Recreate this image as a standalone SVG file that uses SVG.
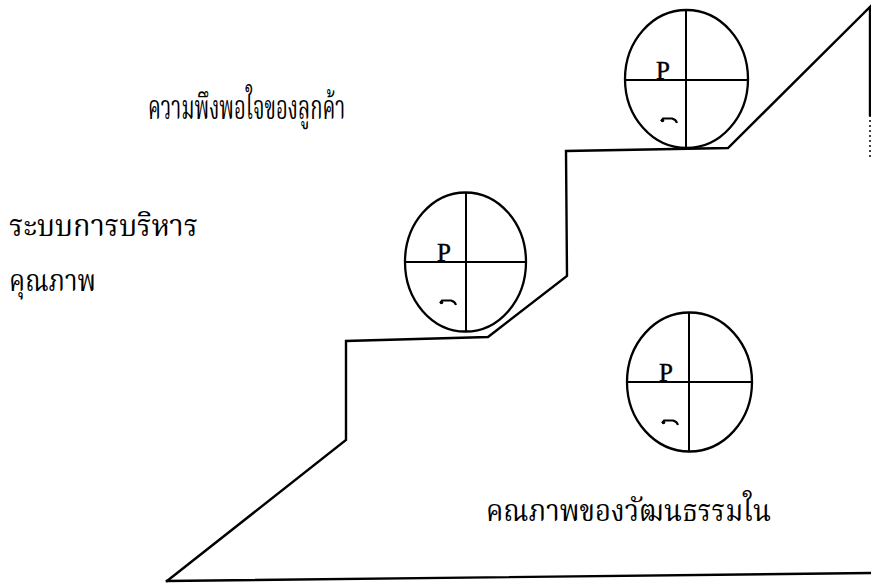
<svg xmlns="http://www.w3.org/2000/svg" width="871" height="583" viewBox="0 0 871 583">
<style>
.line{fill:none;stroke:#000;stroke-width:2.4;stroke-linejoin:miter;stroke-linecap:square}
.wheel{fill:none;stroke:#000;stroke-width:2.3}
.cross{stroke:#000;stroke-width:2}
.p{font-family:"Liberation Serif",serif;font-size:25px;fill:#000;stroke:#000;stroke-width:0.4}
.th{font-family:"Noto Serif Thai","Noto Sans Thai","Norasi","Loma","Garuda","DejaVu Sans",sans-serif;font-size:30px;fill:#000}
.tick{fill:none;stroke:#000;stroke-width:2}
</style>
<defs>
<g id="tickmark">
<circle cx="1.5" cy="2.5" r="1.8" fill="#000"/>
<path class="tick" d="M0,3 L2,0.5 L11,0.5 Q15,1.5 16,5"/>
</g>
</defs>
<rect width="871" height="583" fill="#fff"/>
<g id="connectors">
<path class="line" d="M167,581 L346,440 L346,341 L488,337 L567,276 L566,151 L728,148 L870,7 L870,115"/>
<path class="line" d="M167,581 L871,573"/>
<path d="M870,115 L870,158" fill="none" stroke="#000" stroke-width="1.5" stroke-dasharray="2,3"/>
</g>
<g id="wheel-top">
<ellipse class="wheel" cx="686.5" cy="79" rx="61.5" ry="69"/>
<line class="cross" x1="625" y1="80" x2="748" y2="80"/>
<line class="cross" x1="686" y1="10" x2="686" y2="148"/>
<text class="p" x="656" y="79">P</text>
<use href="#tickmark" x="661" y="118"/>
</g>
<g id="wheel-middle">
<ellipse class="wheel" cx="465.5" cy="262" rx="60.5" ry="69.5"/>
<line class="cross" x1="405" y1="262" x2="526" y2="262"/>
<line class="cross" x1="466" y1="193" x2="466" y2="332"/>
<text class="p" x="437" y="261">P</text>
<use href="#tickmark" x="440" y="300"/>
</g>
<g id="wheel-bottom">
<ellipse class="wheel" cx="689.5" cy="382" rx="62.5" ry="69.5"/>
<line class="cross" x1="627" y1="382" x2="752" y2="382"/>
<line class="cross" x1="689" y1="313" x2="689" y2="452"/>
<text class="p" x="659" y="381">P</text>
<use href="#tickmark" x="662" y="420"/>
</g>
<g id="label-customer">
<text class="th" style="font-size:33px" transform="translate(148,119) scale(0.615,1)">ความพึงพอใจของลูกค้า</text>
</g>
<g id="label-system">
<text class="th" transform="translate(9,236) scale(0.96,1)">ระบบการบริหาร</text>
<text class="th" transform="translate(9,291) scale(0.85,1)">คุณภาพ</text>
</g>
<g id="label-culture">
<text class="th" transform="translate(486,521) scale(0.915,1)">คณภาพของวัฒนธรรมใน</text>
</g>
</svg>
